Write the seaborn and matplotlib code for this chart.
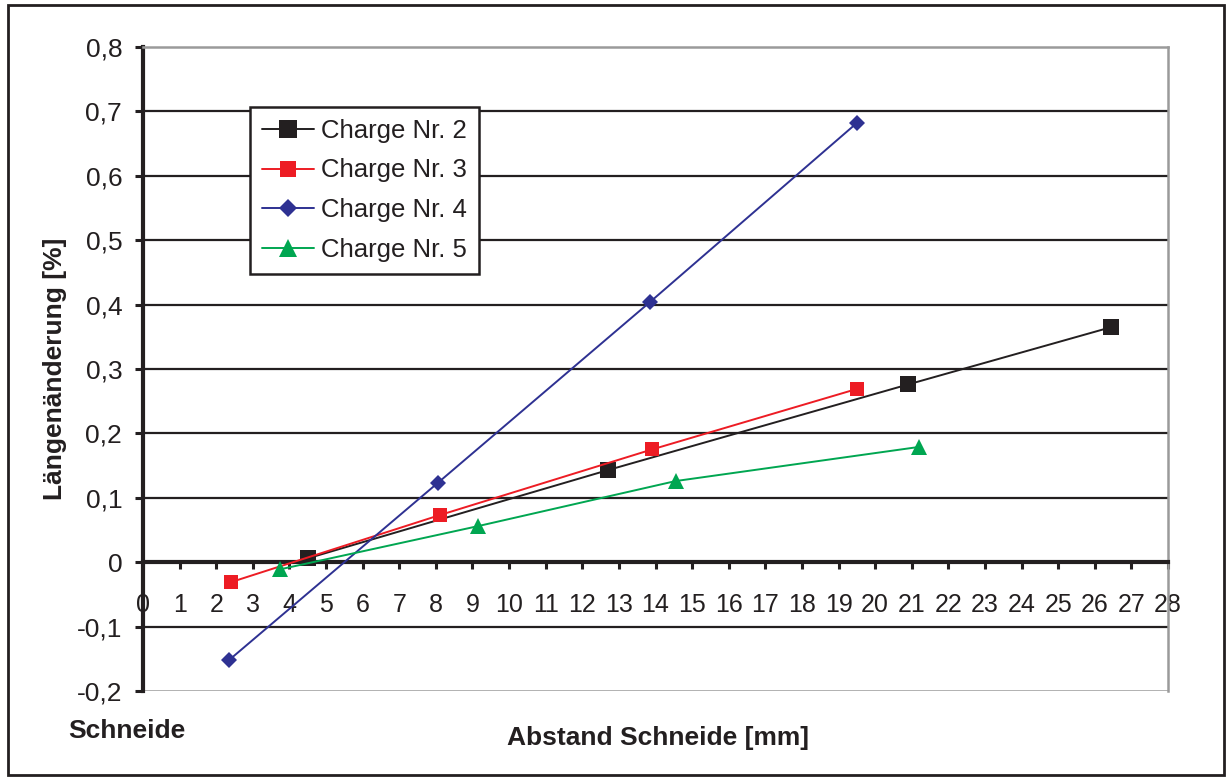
import matplotlib
matplotlib.use("Agg")
import matplotlib.pyplot as plt
from matplotlib.patches import Rectangle
from matplotlib.ticker import FuncFormatter
import seaborn as sns
import pandas as pd

# Measured length change along the distance from the cutting edge
charge2_x = [4.5, 12.7, 20.9, 26.45]
charge2_y = [0.006, 0.143, 0.276, 0.365]
charge3_x = [2.4, 8.1, 13.9, 19.5]
charge3_y = [-0.031, 0.073, 0.175, 0.269]
charge4_x = [2.35, 8.05, 13.85, 19.5]
charge4_y = [-0.152, 0.123, 0.404, 0.682]
charge5_x = [3.75, 9.15, 14.55, 21.2]
charge5_y = [-0.011, 0.056, 0.126, 0.179]

series_names = ["Charge Nr. 2", "Charge Nr. 3", "Charge Nr. 4", "Charge Nr. 5"]
x_ticks = list(range(0, 29))
y_ticks = [-0.2, -0.1, 0.0, 0.1, 0.2, 0.3, 0.4, 0.5, 0.6, 0.7, 0.8]

sns.set_theme(style="white")
plt.rcParams["font.family"] = ["Liberation Sans", "DejaVu Sans"]

fig = plt.figure(figsize=(12.29, 7.78), dpi=100)
ax = fig.add_axes([143 / 1229, 1 - 691 / 778, (1168 - 143) / 1229, (691 - 47) / 778])

frames = []
for name, xs, ys in zip(series_names,
                        [charge2_x, charge3_x, charge4_x, charge5_x],
                        [charge2_y, charge3_y, charge4_y, charge5_y]):
    frames.append(pd.DataFrame({"Abstand": xs, "Aenderung": ys, "Charge": name}))
df = pd.concat(frames, ignore_index=True)

styles = {
    "Charge Nr. 2": dict(color="#231f20", marker="s", ms=12),
    "Charge Nr. 3": dict(color="#ed1c24", marker="s", ms=10),
    "Charge Nr. 4": dict(color="#2e3192", marker="D", ms=8),
    "Charge Nr. 5": dict(color="#00a651", marker="^", ms=12),
}

for name in series_names:
    st = styles[name]
    sns.lineplot(data=df[df["Charge"] == name], x="Abstand", y="Aenderung",
                 ax=ax, color=st["color"], marker=st["marker"],
                 markersize=st["ms"], markeredgewidth=0, linewidth=1.4,
                 label=name, zorder=4)

ax.set_xlim(0, 28)
ax.set_ylim(-0.2, 0.8)
ax.set_xticks(x_ticks)
ax.set_yticks(y_ticks)
ax.set_xlabel("")
ax.set_ylabel("")

def comma_fmt(v, pos):
    if abs(v) < 1e-9:
        return "0"
    return f"{v:.1f}".replace(".", ",")

ax.yaxis.set_major_formatter(FuncFormatter(comma_fmt))

# Horizontal grid lines only inside the plot area
ax.grid(False)
for v in y_ticks[1:-1]:
    if abs(v) > 1e-9:
        ax.axhline(v, color="#231f20", lw=1.6, zorder=1)
ax.axhline(-0.2, color="#9a9a9a", lw=1.8, zorder=1)

# X axis crosses at zero
ax.spines["bottom"].set_position(("data", 0))
ax.spines["bottom"].set_color("#231f20")
ax.spines["bottom"].set_linewidth(3)
ax.spines["left"].set_color("#231f20")
ax.spines["left"].set_linewidth(3)
ax.spines["top"].set_color("#9a9a9a")
ax.spines["top"].set_linewidth(1.8)
ax.spines["right"].set_color("#9a9a9a")
ax.spines["right"].set_linewidth(1.8)

ax.tick_params(axis="x", direction="out", length=5, width=2.2, color="#231f20",
               labelsize=18, pad=17, labelcolor="#231f20", bottom=True)
ax.tick_params(axis="y", direction="out", length=6, width=2.2, color="#231f20",
               labelsize=19, pad=9, labelcolor="#231f20", left=True)

leg = ax.legend(loc="upper left", bbox_to_anchor=(250 / 1229, 1 - 107 / 778),
                bbox_transform=fig.transFigure, borderaxespad=0, fontsize=18.5,
                frameon=True, fancybox=False, shadow=False, handlelength=2.05,
                labelspacing=0.62, borderpad=0.45, handletextpad=0.28,
                markerscale=1.1)
leg.get_frame().set_edgecolor("#231f20")
leg.get_frame().set_linewidth(1.8)
leg.get_frame().set_facecolor("white")
leg.get_frame().set_alpha(1)
leg.set_zorder(6)
for t in leg.get_texts():
    t.set_color("#231f20")

fig.text(55 / 1229, 1 - 369 / 778, "Längenänderung [%]", rotation=90,
         ha="center", va="center", fontsize=19, fontweight="bold", color="#231f20")
fig.text(658 / 1229, 1 - 738 / 778, "Abstand Schneide [mm]",
         ha="center", va="center", fontsize=19, fontweight="bold", color="#231f20")
fig.text(127 / 1229, 1 - 731 / 778, "Schneide",
         ha="center", va="center", fontsize=19, fontweight="bold", color="#231f20")

# Outer chart frame
fig.patches.append(Rectangle((8 / 1229, 3 / 778), 1216 / 1229, 770 / 778,
                             transform=fig.transFigure, fill=False,
                             edgecolor="#231f20", linewidth=2))

fig.savefig("out.png", dpi=100)
